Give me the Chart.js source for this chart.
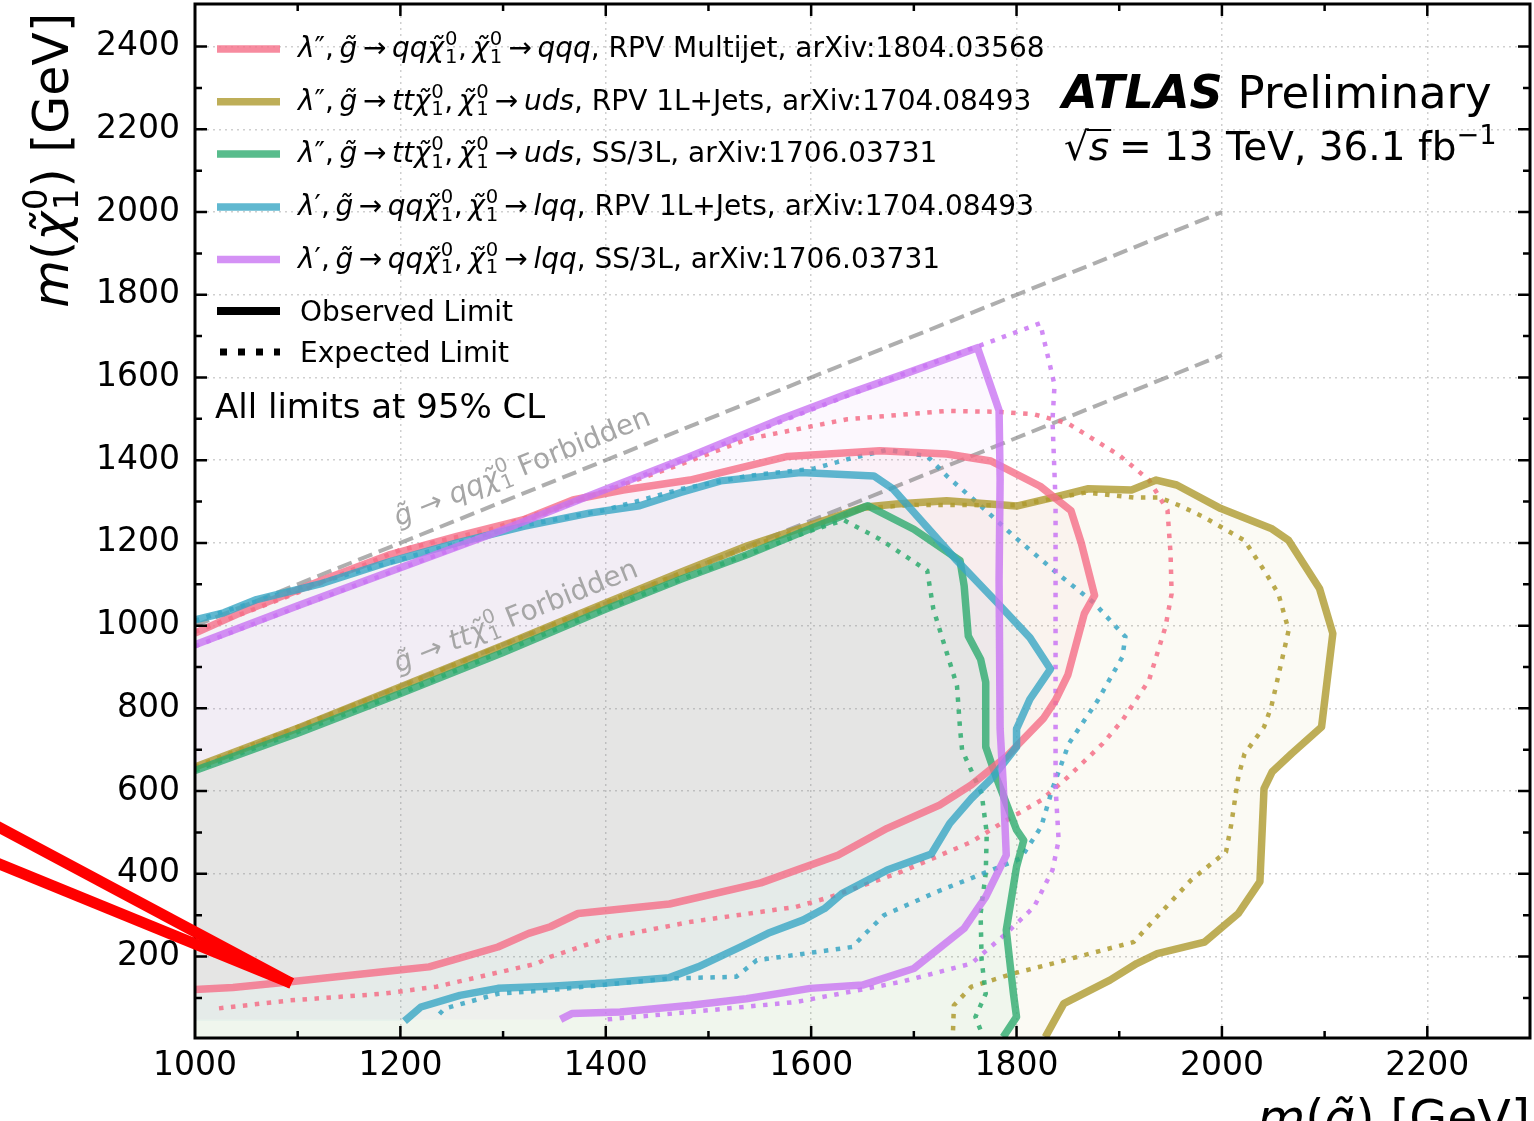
<!DOCTYPE html>
<html>
<head>
<meta charset="utf-8">
<script src="https://cdn.jsdelivr.net/npm/chart.js@4.4.1/dist/chart.umd.min.js"></script>
<style>
  html, body { margin: 0; padding: 0; background: #fff; }
  #wrap { width: 1534px; height: 1121px; }
</style>
</head>
<body>
<div id="wrap"><canvas id="limits" width="1534" height="1121"></canvas></div>
<script>
// m(gluino) on x, m(neutralino) on y, both in GeV

// lambda'' g -> qq chi, chi -> qqq (RPV multijet)
const pinkObsX = [1000, 1044, 1125, 1190, 1255, 1320, 1368, 1417, 1482, 1577, 1667, 1732, 1775, 1823, 1853, 1863, 1876, 1866, 1850, 1838, 1826, 1790, 1756, 1725, 1674, 1626, 1551, 1462, 1373, 1346, 1325, 1295, 1228, 1183, 1093, 1037, 1000];
const pinkObsY = [982, 1031, 1111, 1172, 1216, 1256, 1304, 1328, 1352, 1409, 1423, 1415, 1398, 1337, 1278, 1200, 1073, 1029, 881, 820, 775, 683, 615, 566, 510, 445, 378, 327, 304, 272, 256, 223, 175, 163, 139, 125, 120];
const pinkExpX = [1000, 1100, 1200, 1287, 1384, 1473, 1538, 1635, 1732, 1783, 1817, 1850, 1900, 1929, 1947, 1950, 1951, 1945, 1929, 1903, 1884, 1850, 1824, 1785, 1756, 1688, 1619, 1585, 1483, 1400, 1346, 1333, 1235, 1183, 1093, 1021];
const pinkExpY = [985, 1080, 1183, 1232, 1312, 1390, 1451, 1499, 1519, 1517, 1511, 1489, 1412, 1352, 1279, 1174, 1077, 997, 868, 771, 715, 634, 578, 522, 477, 405, 344, 320, 284, 244, 199, 183, 127, 110, 94, 74];

// lambda'' g -> tt chi, chi -> uds (RPV 1L+jets)
const oliveObsX = [1000, 1100, 1200, 1300, 1400, 1473, 1538, 1587, 1651, 1683, 1732, 1800, 1836, 1870, 1912, 1936, 1956, 1999, 2048, 2065, 2095, 2108, 2097, 2068, 2049, 2041, 2037, 2016, 1983, 1937, 1917, 1891, 1846, 1828];
const oliveObsY = [658, 752, 852, 952, 1055, 1129, 1193, 1233, 1286, 1294, 1302, 1289, 1310, 1331, 1328, 1352, 1340, 1283, 1235, 1206, 1090, 981, 755, 691, 647, 606, 381, 304, 235, 207, 183, 143, 86, 5];
const oliveExpX = [1000, 1200, 1400, 1473, 1538, 1600, 1651, 1700, 1800, 1868, 1914, 1939, 1959, 1982, 2022, 2041, 2055, 2065, 2048, 2041, 2022, 2016, 2009, 2004, 1970, 1914, 1835, 1797, 1756, 1739, 1738];
const oliveExpY = [658, 852, 1055, 1127, 1190, 1240, 1284, 1292, 1291, 1322, 1310, 1310, 1290, 1263, 1206, 1134, 1077, 989, 803, 755, 690, 635, 518, 453, 385, 235, 183, 159, 127, 82, 10];

// lambda'' g -> tt chi, chi -> uds (SS/3L)
const greenObsX = [1000, 1100, 1200, 1300, 1400, 1473, 1538, 1590, 1655, 1700, 1745, 1749, 1753, 1765, 1770, 1770, 1780, 1800, 1807, 1800, 1790, 1794, 1797, 1800, 1787];
const greenObsY = [650, 740, 836, 935, 1040, 1112, 1172, 1225, 1290, 1233, 1157, 1096, 975, 919, 863, 707, 635, 506, 481, 417, 264, 175, 110, 54, 5];
const greenExpX = [1000, 1200, 1400, 1473, 1538, 1600, 1632, 1667, 1713, 1719, 1732, 1742, 1745, 1747, 1766, 1771, 1770, 1765, 1766, 1770, 1760, 1765];
const greenExpY = [650, 836, 1040, 1112, 1172, 1230, 1255, 1209, 1133, 1040, 935, 855, 750, 699, 594, 498, 401, 304, 191, 110, 54, 22];

// lambda' g -> qq chi, chi -> lqq (RPV 1L+jets)
const blueObsX = [1000, 1028, 1060, 1125, 1190, 1255, 1320, 1384, 1433, 1473, 1512, 1590, 1661, 1680, 1742, 1781, 1813, 1833, 1813, 1800, 1800, 1776, 1756, 1735, 1717, 1674, 1630, 1613, 1592, 1558, 1531, 1490, 1462, 1400, 1346, 1295, 1258, 1220, 1204];
const blueObsY = [1014, 1031, 1063, 1103, 1155, 1200, 1240, 1272, 1290, 1322, 1350, 1370, 1362, 1330, 1157, 1056, 971, 895, 822, 750, 707, 631, 582, 522, 448, 409, 352, 316, 288, 256, 223, 175, 149, 136, 128, 123, 106, 78, 44];
const blueExpX = [1000, 1100, 1200, 1300, 1400, 1473, 1538, 1603, 1635, 1674, 1713, 1732, 1765, 1797, 1839, 1875, 1906, 1903, 1879, 1851, 1835, 1824, 1804, 1722, 1671, 1653, 1640, 1547, 1527, 1462, 1346, 1295, 1243, 1234];
const blueExpY = [1012, 1090, 1160, 1232, 1280, 1330, 1362, 1380, 1402, 1425, 1410, 1362, 1290, 1217, 1128, 1056, 973, 924, 819, 715, 606, 514, 437, 356, 300, 256, 223, 191, 151, 147, 119, 110, 74, 50];

// lambda' g -> qq chi, chi -> lqq (SS/3L)
const purpleObsX = [1000, 1100, 1200, 1300, 1400, 1482, 1570, 1635, 1687, 1762, 1783, 1784, 1783, 1784, 1787, 1790, 1770, 1749, 1700, 1650, 1599, 1537, 1483, 1414, 1367, 1356];
const purpleObsY = [954, 1048, 1140, 1232, 1330, 1409, 1499, 1560, 1605, 1672, 1520, 1354, 1112, 750, 619, 445, 344, 268, 171, 131, 123, 98, 82, 66, 62, 48];
const purpleExpX = [1000, 1100, 1200, 1300, 1400, 1500, 1600, 1700, 1762, 1823, 1837, 1835, 1838, 1838, 1838, 1841, 1835, 1817, 1790, 1756, 1688, 1647, 1585, 1483, 1401];
const purpleExpY = [950, 1045, 1138, 1230, 1328, 1425, 1522, 1618, 1675, 1731, 1582, 1497, 1300, 1000, 610, 481, 409, 320, 256, 183, 139, 119, 90, 66, 48];

// kinematic boundaries
const forbidX = [1000, 2000];
const qqForbidY = [1000, 2000];
const ttForbidY = [654, 1654];

// axis ticks
const xTickValues = [1000, 1200, 1400, 1600, 1800, 2000, 2200];
const yTickValues = [200, 400, 600, 800, 1000, 1200, 1400, 1600, 1800, 2000, 2200, 2400];

const FONT = '"DejaVu Sans"';
const rgb = {
  pink: [245, 110, 135],
  olive: [174, 154, 46],
  green: [46, 171, 111],
  blue: [56, 166, 196],
  purple: [201, 118, 243]
};
const col = (c, a) => 'rgba(' + rgb[c].join(',') + ',' + a + ')';

function pts(xs, ys) {
  return xs.map((x, i) => ({x: x, y: ys[i]}));
}

function fillSet(name, data) {
  return {data: data, showLine: true, fill: 'shape', borderWidth: 0, borderColor: 'rgba(0,0,0,0)',
    backgroundColor: col(name, 0.05), pointRadius: 0, order: 100};
}
function obsSet(name, xs, ys, order) {
  return {data: pts(xs, ys), showLine: true, fill: false, borderColor: col(name, 0.8), borderWidth: 7.5,
    borderJoinStyle: 'round', pointRadius: 0, order: order};
}
function expSet(name, xs, ys, order) {
  return {data: pts(xs, ys), showLine: true, fill: false, borderColor: col(name, 0.85), borderWidth: 4.5,
    borderDash: [4.5, 7.5], borderCapStyle: 'butt', pointRadius: 0, order: order};
}
function dashSet(ys) {
  return {data: pts(forbidX, ys), showLine: true, fill: false, borderColor: 'rgba(120,120,120,0.6)',
    borderWidth: 4, borderDash: [15, 7], pointRadius: 0, order: 60};
}

const datasets = [
  fillSet('pink', pts(pinkObsX, pinkObsY)),
  fillSet('olive', pts(oliveObsX, oliveObsY).concat([{x: 1000, y: 0}])),
  fillSet('green', pts(greenObsX, greenObsY).concat([{x: 1000, y: 0}])),
  fillSet('blue', pts(blueObsX, blueObsY).concat([{x: 1000, y: blueObsY[blueObsY.length - 1]}])),
  fillSet('purple', pts(purpleObsX, purpleObsY).concat([{x: 1000, y: purpleObsY[purpleObsY.length - 1]}])),
  dashSet(qqForbidY),
  dashSet(ttForbidY),
  expSet('pink', pinkExpX, pinkExpY, 25),
  expSet('olive', oliveExpX, oliveExpY, 24),
  expSet('green', greenExpX, greenExpY, 23),
  expSet('blue', blueExpX, blueExpY, 22),
  expSet('purple', purpleExpX, purpleExpY, 21),
  obsSet('olive', oliveObsX, oliveObsY, 15),
  obsSet('green', greenObsX, greenObsY, 14),
  obsSet('pink', pinkObsX, pinkObsY, 13),
  obsSet('blue', blueObsX, blueObsY, 12),
  obsSet('purple', purpleObsX, purpleObsY, 11)
];

// small rich-text helper: {t} upright, {i} italic, {chi} neutralino with 0/1 scripts, {sup} superscript
function rich(ctx, tokens, x, y, size, draw) {
  let cx = x;
  for (const tk of tokens) {
    if (tk.chi) {
      ctx.font = 'italic ' + size + 'px ' + FONT;
      if (draw) ctx.fillText('\u03c7\u0303', cx, y);
      cx += ctx.measureText('\u03c7').width + size * 0.03;
      ctx.font = (size * 0.7) + 'px ' + FONT;
      if (draw) {
        ctx.fillText('0', cx, y - size * 0.42);
        ctx.fillText('1', cx, y + size * 0.2);
      }
      cx += ctx.measureText('0').width + size * 0.02;
    } else if (tk.sup) {
      ctx.font = (size * 0.7) + 'px ' + FONT;
      if (draw) ctx.fillText(tk.sup, cx, y - size * 0.42);
      cx += ctx.measureText(tk.sup).width;
    } else {
      const s = tk.i !== undefined ? tk.i : tk.t;
      ctx.font = (tk.i !== undefined ? 'italic ' : '') + (tk.b ? 'bold ' : '') + size + 'px ' + FONT;
      if (draw) ctx.fillText(s, cx, y);
      cx += ctx.measureText(s).width;
    }
  }
  return cx - x;
}

const arrow = {t: '\u2009\u2192\u2009'};
const lam2 = [{i: '\u03bb'}, {t: '\u2033,\u2009'}];
const lam1 = [{i: '\u03bb'}, {t: '\u2032,\u2009'}];
const gl = {i: 'g\u0303'};
const legendRows = [
  {c: 'pink', tk: lam2.concat([gl, arrow, {i: 'qq'}, {chi: 1}, {t: ',\u2009'}, {chi: 1}, arrow, {i: 'qqq'}, {t: ', RPV Multijet, arXiv:1804.03568'}])},
  {c: 'olive', tk: lam2.concat([gl, arrow, {i: 'tt'}, {chi: 1}, {t: ',\u2009'}, {chi: 1}, arrow, {i: 'uds'}, {t: ', RPV 1L+Jets, arXiv:1704.08493'}])},
  {c: 'green', tk: lam2.concat([gl, arrow, {i: 'tt'}, {chi: 1}, {t: ',\u2009'}, {chi: 1}, arrow, {i: 'uds'}, {t: ', SS/3L, arXiv:1706.03731'}])},
  {c: 'blue', tk: lam1.concat([gl, arrow, {i: 'qq'}, {chi: 1}, {t: ',\u2009'}, {chi: 1}, arrow, {i: 'lqq'}, {t: ', RPV 1L+Jets, arXiv:1704.08493'}])},
  {c: 'purple', tk: lam1.concat([gl, arrow, {i: 'qq'}, {chi: 1}, {t: ',\u2009'}, {chi: 1}, arrow, {i: 'lqq'}, {t: ', SS/3L, arXiv:1706.03731'}])}
];

const frameAndTicks = {
  id: 'frameAndTicks',
  afterDatasetsDraw(chart) {
    const {ctx, chartArea: a, scales: {x, y}} = chart;
    ctx.save();
    ctx.strokeStyle = '#000';
    ctx.lineWidth = 2.5;
    ctx.beginPath();
    for (let v = 1100; v < 2300; v += 100) {
      const len = v % 200 === 0 ? 12 : 7;
      const px = x.getPixelForValue(v);
      ctx.moveTo(px, a.bottom); ctx.lineTo(px, a.bottom - len);
      ctx.moveTo(px, a.top); ctx.lineTo(px, a.top + len);
    }
    for (let v = 100; v <= 2500; v += 100) {
      const len = v % 200 === 0 ? 12 : 7;
      const py = y.getPixelForValue(v);
      if (py < a.top + 2) continue;
      ctx.moveTo(a.left, py); ctx.lineTo(a.left + len, py);
      ctx.moveTo(a.right, py); ctx.lineTo(a.right - len, py);
    }
    ctx.stroke();
    ctx.lineWidth = 3;
    ctx.strokeRect(a.left, a.top, a.right - a.left, a.bottom - a.top);
    ctx.restore();
  }
};

const annotations = {
  id: 'annotations',
  afterDraw(chart) {
    const {ctx, chartArea: a, scales: {x, y}} = chart;
    ctx.save();
    ctx.textBaseline = 'alphabetic';
    ctx.fillStyle = '#000';

    // legend
    const lx = a.left + 22, tx = a.left + 103;
    const rowY = [49, 101.7, 154, 207, 259.6];
    legendRows.forEach((r, k) => {
      ctx.strokeStyle = col(r.c, 0.8);
      ctx.lineWidth = 7.5;
      ctx.beginPath(); ctx.moveTo(lx, rowY[k]); ctx.lineTo(lx + 63, rowY[k]); ctx.stroke();
      ctx.fillStyle = '#000';
      rich(ctx, r.tk, tx, rowY[k] + 8, 28, true);
    });
    ctx.strokeStyle = '#000';
    ctx.lineWidth = 8;
    ctx.beginPath(); ctx.moveTo(lx, 311); ctx.lineTo(lx + 63, 311); ctx.stroke();
    ctx.lineWidth = 7;
    ctx.setLineDash([7, 11]);
    ctx.beginPath(); ctx.moveTo(lx + 3, 352); ctx.lineTo(lx + 63, 352); ctx.stroke();
    ctx.setLineDash([]);
    rich(ctx, [{t: 'Observed Limit'}], tx + 2, 321, 28, true);
    rich(ctx, [{t: 'Expected Limit'}], tx + 2, 362, 28, true);
    rich(ctx, [{t: 'All limits at 95% CL'}], a.left + 20, 418, 34, true);

    // experiment label
    const w = rich(ctx, [{i: 'ATLAS', b: true}], 1062, 108, 46, true);
    rich(ctx, [{t: 'Preliminary'}], 1062 + w + 15, 108, 45, true);
    const sx = 1064;
    ctx.font = '39px ' + FONT;
    ctx.fillText('\u221a', sx, 160);
    const rw = ctx.measureText('\u221a').width;
    const sw = rich(ctx, [{i: 's'}], sx + rw, 160, 39, true);
    ctx.lineWidth = 2; ctx.strokeStyle = '#000';
    ctx.beginPath(); ctx.moveTo(sx + rw - 2, 130); ctx.lineTo(sx + rw + sw + 2, 130); ctx.stroke();
    rich(ctx, [{t: '\u2009= 13 TeV, 36.1 fb'}, {sup: '\u22121'}], sx + rw + sw + 2, 160, 39, true);

    // forbidden region labels, parallel to the kinematic lines
    const p1x = x.getPixelForValue(1000), p1y = y.getPixelForValue(1000);
    const p2x = x.getPixelForValue(2000), p2y = y.getPixelForValue(2000);
    const ang = Math.atan2(p2y - p1y, p2x - p1x);
    ctx.fillStyle = '#a6a6a6';
    [[1198, 1240, 'qq'], [1198, 886, 'tt']].forEach(([vx, vy, q]) => {
      ctx.save();
      ctx.translate(x.getPixelForValue(vx), y.getPixelForValue(vy));
      ctx.rotate(ang);
      rich(ctx, [gl, {t: ' \u2192 '}, {i: q}, {chi: 1}, {t: ' Forbidden'}], 0, 0, 28, true);
      ctx.restore();
    });

    // axis titles, placed at the axis ends
    ctx.fillStyle = '#000';
    const xt = [{i: 'm'}, {t: '('}, gl, {t: ') [GeV]'}];
    const xw = rich(ctx, xt, 0, 0, 49, false);
    rich(ctx, xt, a.right - xw, 1135, 49, true);
    const yt = [{i: 'm'}, {t: '('}, {chi: 1}, {t: ') [GeV]'}];
    const yw = rich(ctx, yt, 0, 0, 49, false);
    ctx.save();
    ctx.translate(68, 13);
    ctx.rotate(-Math.PI / 2);
    rich(ctx, yt, -yw, 0, 49, true);
    ctx.restore();

    // red pointer drawn over the figure
    ctx.strokeStyle = '#ff0000';
    ctx.lineWidth = 11;
    ctx.lineCap = 'butt';
    const tipX = x.getPixelForValue(1094), tipY = y.getPixelForValue(135);
    [518, 428].forEach(v => {
      ctx.beginPath(); ctx.moveTo(-5, y.getPixelForValue(v)); ctx.lineTo(tipX, tipY); ctx.stroke();
    });
    ctx.restore();
  }
};

const tickFont = {family: 'DejaVu Sans', size: 33};
const plainLabel = v => String(v);

new Chart(document.getElementById('limits'), {
  type: 'scatter',
  data: {datasets: datasets},
  options: {
    responsive: false,
    animation: false,
    events: [],
    layout: {padding: {top: 4, right: 4, left: 0, bottom: 0}},
    plugins: {
      legend: {display: false},
      tooltip: {enabled: false},
      filler: {drawTime: 'beforeDatasetsDraw'}
    },
    scales: {
      x: {
        type: 'linear', min: 1000, max: 2300,
        afterFit: s => { s.height = 83; s.paddingLeft = 0; s.paddingRight = 0; },
        afterBuildTicks: s => { s.ticks = xTickValues.map(v => ({value: v})); },
        grid: {color: '#cfcfcf', lineWidth: 1.5, drawTicks: false},
        border: {display: false, dash: [2, 4]},
        ticks: {font: tickFont, color: '#000', padding: 9, maxRotation: 0, autoSkip: false, callback: plainLabel}
      },
      y: {
        type: 'linear', min: 3, max: 2503,
        afterFit: s => { s.width = 195; s.paddingTop = 0; s.paddingBottom = 0; },
        afterBuildTicks: s => { s.ticks = yTickValues.map(v => ({value: v})); },
        grid: {color: '#cfcfcf', lineWidth: 1.5, drawTicks: false},
        border: {display: false, dash: [2, 4]},
        ticks: {font: tickFont, color: '#000', padding: 15, autoSkip: false, callback: plainLabel}
      }
    }
  },
  plugins: [frameAndTicks, annotations]
});
</script>
</body>
</html>
